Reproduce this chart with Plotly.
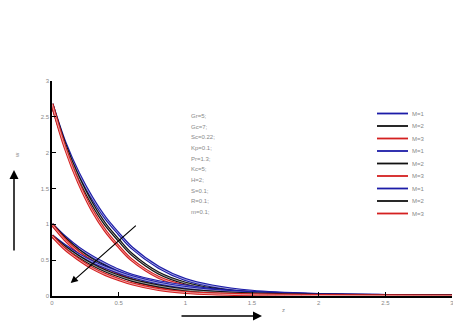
import plotly.graph_objects as go

z = [0, 0.1, 0.2, 0.3, 0.4, 0.5, 0.6, 0.8, 1.0, 1.2, 1.5, 2.0, 2.5, 3.0]

up_m1 = [2.68, 2.13, 1.71, 1.37, 1.09, 0.87, 0.67, 0.40, 0.23, 0.14, 0.065, 0.022, 0.008, 0.003]
up_m2 = [2.68, 2.10, 1.65, 1.29, 1.00, 0.78, 0.58, 0.32, 0.18, 0.10, 0.045, 0.015, 0.006, 0.002]
up_m3 = [2.68, 2.06, 1.58, 1.20, 0.91, 0.69, 0.50, 0.26, 0.14, 0.08, 0.035, 0.012, 0.005, 0.002]

mid_m1 = [1.00, 0.82, 0.67, 0.55, 0.45, 0.36, 0.29, 0.20, 0.14, 0.09, 0.050, 0.020, 0.008, 0.003]
mid_m2 = [1.00, 0.80, 0.64, 0.51, 0.41, 0.32, 0.25, 0.16, 0.10, 0.065, 0.035, 0.013, 0.005, 0.002]
mid_m3 = [1.00, 0.78, 0.61, 0.48, 0.38, 0.29, 0.22, 0.13, 0.08, 0.05, 0.025, 0.010, 0.004, 0.002]

low_m1 = [0.84, 0.70, 0.58, 0.48, 0.40, 0.33, 0.27, 0.18, 0.12, 0.08, 0.045, 0.017, 0.007, 0.003]
low_m2 = [0.84, 0.68, 0.55, 0.44, 0.35, 0.28, 0.22, 0.14, 0.085, 0.055, 0.030, 0.011, 0.004, 0.002]
low_m3 = [0.84, 0.65, 0.51, 0.39, 0.30, 0.23, 0.17, 0.09, 0.05, 0.03, 0.016, 0.007, 0.003, 0.001]

labels = ["M=1", "M=2", "M=3"]
colors = ["#1c1ca8", "#111111", "#d42020"]
params = ["Gr=5;", "Gc=7;", "Sc=0.22;", "Kp=0.1;", "Pr=1.3;", "Kc=5;", "H=2;", "S=0.1;", "R=0.1;", "m=0.1;"]
tickvals = [0, 0.5, 1, 1.5, 2, 2.5, 3]
ticktext = ["0", "0.5", "1", "1.5", "2", "2.5", "3"]

groups = [[up_m1, up_m2, up_m3], [mid_m1, mid_m2, mid_m3], [low_m1, low_m2, low_m3]]

fig = go.Figure()
for g in groups:
    for ys, lab, col in zip(g, labels, colors):
        fig.add_trace(go.Scatter(
            x=z, y=ys, name=lab, mode="lines", showlegend=False,
            line=dict(color=col, width=3, shape="spline"),
        ))
        fig.add_trace(go.Scatter(
            x=z, y=ys, name=lab, mode="lines", showlegend=False, hoverinfo="skip",
            line=dict(color="rgba(255,255,255,0.75)", width=0.8, shape="spline"),
        ))

fig.update_layout(
    width=453, height=327,
    margin=dict(l=52, r=1, t=81, b=31, autoexpand=False),
    plot_bgcolor="white", paper_bgcolor="white",
    font=dict(family="Arial, Liberation Sans", size=7, color="#888888"),
    showlegend=False,
    xaxis=dict(range=[0, 3], tickvals=tickvals, ticktext=ticktext, showgrid=False,
               zeroline=False, showline=True, linecolor="black", linewidth=1.5,
               ticks="inside", ticklen=4, tickcolor="black", automargin=False,
               ticklabeloverflow="allow",
               tickfont=dict(size=6, color="#888888")),
    yaxis=dict(range=[0, 3], tickvals=tickvals, ticktext=ticktext, showgrid=False,
               zeroline=False, showline=True, linecolor="black", linewidth=1.5,
               ticks="inside", ticklen=4, tickcolor="black", automargin=False,
               ticklabeloverflow="allow",
               tickfont=dict(size=6, color="#888888")),
)

def dx(px):
    return (px - 52) / 400.0

def dy(py):
    return (296 - py) / 215.0

annotations = []
shapes = []
# manual legend
k = 0
for g in groups:
    for lab, col in zip(labels, colors):
        yy = dy(113.5 + 12.5 * k)
        shapes.append(dict(type="line", xref="x domain", yref="y domain",
                           x0=dx(377), x1=dx(408), y0=yy, y1=yy,
                           line=dict(color=col, width=1.8)))
        annotations.append(dict(x=dx(410), y=yy, xref="x domain", yref="y domain",
                                text=lab, showarrow=False, xanchor="left", yanchor="middle",
                                font=dict(size=6, color="#888888")))
        k += 1

for i, p in enumerate(params):
    annotations.append(dict(x=dx(189), y=dy(116 + 10.67 * i), xref="x domain", yref="y domain",
                            text=p, showarrow=False, xanchor="left", yanchor="middle",
                            font=dict(size=6, color="#888888")))
# diagonal arrow
annotations.append(dict(x=0.14, y=0.18, ax=0.64, ay=1.0, xref="x", yref="y", axref="x", ayref="y",
                        text="", showarrow=True, arrowhead=2, arrowsize=1.2, arrowwidth=1.2,
                        arrowcolor="black"))
# y label arrow
annotations.append(dict(x=dx(14), y=dy(170), ax=dx(14), ay=dy(252), xref="x domain", yref="y domain",
                        axref="x domain", ayref="y domain", text="", showarrow=True, arrowhead=2,
                        arrowsize=1.2, arrowwidth=1.5, arrowcolor="black"))
annotations.append(dict(x=dx(12), y=dy(155), xref="x domain", yref="y domain", text="w",
                        showarrow=False, textangle=-90, font=dict(size=6, color="#888888")))
# x label arrow
annotations.append(dict(x=dx(262), y=dy(316), ax=dx(180), ay=dy(316), xref="x domain", yref="y domain",
                        axref="x domain", ayref="y domain", text="", showarrow=True, arrowhead=2,
                        arrowsize=1.2, arrowwidth=1.5, arrowcolor="black"))
annotations.append(dict(x=dx(283), y=dy(315), xref="x domain", yref="y domain", text="z",
                        showarrow=False, font=dict(size=6, color="#888888")))
fig.update_layout(annotations=annotations, shapes=shapes)

fig.write_html("out.html", config={"displayModeBar": False},
               post_script="document.body.style.margin='0';document.body.style.overflow='hidden';")
